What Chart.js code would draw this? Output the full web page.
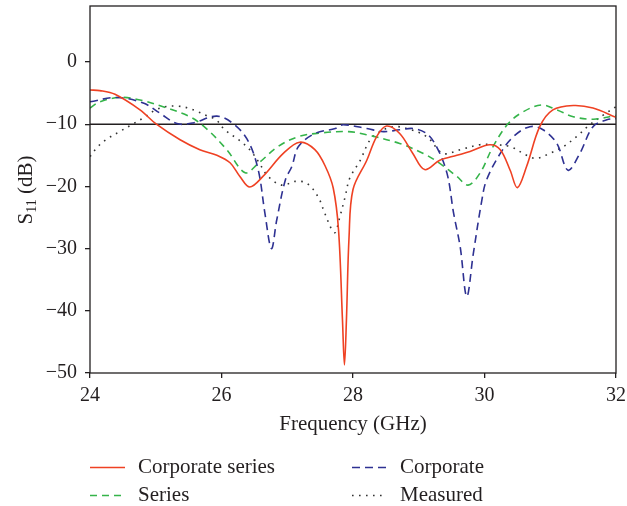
<!DOCTYPE html>
<html>
<head>
<meta charset="utf-8">
<script src="https://cdn.jsdelivr.net/npm/chart.js@4.4.0/dist/chart.umd.min.js"></script>
<style>
  html, body { margin: 0; padding: 0; background: #ffffff; }
  #wrap { width: 627px; height: 506px; }
</style>
</head>
<body>
<div id="wrap"><canvas id="chart" width="627" height="506"></canvas></div>
<script>
// Frequency axis ticks (GHz) and S11 axis ticks (dB)
const freqTicks = [24, 26, 28, 30, 32];
const s11Ticks = [-50, -40, -30, -20, -10, 0];
const refLevel = -10;

// Corporate series (simulated)
const corpSeriesFreq = [24.0, 24.15, 24.38, 24.76, 25.01, 25.37, 25.67, 25.93, 26.13, 26.28, 26.43, 26.63, 26.94, 27.19, 27.42, 27.58, 27.7, 27.78, 27.84, 27.87, 27.9, 27.94, 28.0, 28.21, 28.36, 28.51, 28.71, 28.91, 29.09, 29.32, 29.58, 29.78, 30.08, 30.24, 30.39, 30.5, 30.64, 30.84, 31.04, 31.35, 31.65, 32.0];
const corpSeriesS11 = [-4.5, -4.6, -5.2, -7.7, -10.0, -12.5, -14.1, -15.0, -16.2, -18.4, -20.1, -18.4, -14.7, -12.9, -14.1, -16.8, -20.3, -27.0, -41.5, -48.7, -41.5, -28.1, -20.5, -15.8, -12.0, -10.3, -11.5, -14.7, -17.3, -15.8, -15.0, -14.4, -13.3, -14.1, -17.4, -20.2, -16.8, -10.4, -7.7, -7.0, -7.4, -8.9];

// Series feed (simulated)
const seriesFreq = [24.0, 24.15, 24.46, 24.76, 25.17, 25.52, 25.77, 26.08, 26.36, 26.56, 26.86, 27.17, 27.52, 27.93, 28.21, 28.71, 29.07, 29.32, 29.58, 29.75, 29.93, 30.13, 30.36, 30.59, 30.87, 31.1, 31.35, 31.66, 32.0];
const seriesS11 = [-7.4, -6.4, -5.7, -6.1, -7.4, -8.8, -10.7, -14.1, -17.8, -16.3, -13.6, -12.0, -11.4, -11.2, -11.7, -13.1, -14.7, -16.3, -18.4, -19.8, -17.9, -13.6, -9.9, -8.0, -6.9, -7.7, -8.8, -9.2, -8.6];

// Corporate feed (simulated)
const corpFreq = [24.0, 24.41, 24.81, 25.06, 25.32, 25.57, 25.93, 26.2, 26.41, 26.56, 26.66, 26.76, 26.84, 26.97, 27.07, 27.17, 27.42, 27.73, 27.85, 28.21, 28.46, 28.71, 28.92, 29.12, 29.27, 29.43, 29.53, 29.63, 29.73, 29.83, 29.96, 30.03, 30.24, 30.44, 30.69, 30.89, 31.1, 31.27, 31.45, 31.65, 31.86, 32.0];
const corpS11 = [-6.4, -5.7, -6.6, -8.2, -9.9, -9.8, -8.7, -10.1, -12.8, -17.4, -24.3, -30.0, -25.4, -19.0, -16.8, -13.6, -11.5, -10.7, -10.1, -10.7, -11.2, -10.9, -10.7, -11.5, -13.6, -17.9, -24.3, -29.7, -37.7, -30.8, -22.2, -19.0, -14.7, -12.0, -10.4, -10.9, -13.1, -17.4, -14.7, -10.4, -9.3, -9.1];

// Measured
const measFreq = [24.0, 24.12, 24.27, 24.45, 24.63, 24.81, 24.98, 25.14, 25.34, 25.49, 25.64, 25.79, 25.92, 26.05, 26.26, 26.43, 26.56, 26.71, 26.92, 27.12, 27.3, 27.47, 27.57, 27.68, 27.73, 27.8, 27.88, 27.95, 28.11, 28.26, 28.41, 28.61, 28.82, 29.12, 29.37, 29.63, 29.93, 30.13, 30.39, 30.64, 30.79, 30.99, 31.2, 31.4, 31.6, 31.81, 32.0];
const measS11 = [-15.2, -13.6, -12.3, -11.2, -10.1, -9.0, -7.8, -7.2, -7.1, -7.4, -8.0, -8.7, -9.3, -10.9, -12.5, -14.1, -16.0, -18.4, -19.8, -19.2, -19.5, -21.7, -24.3, -27.0, -27.4, -24.9, -21.7, -18.7, -15.8, -12.5, -11.2, -10.4, -10.7, -12.0, -14.7, -14.1, -13.3, -13.3, -13.6, -15.0, -15.5, -14.7, -13.6, -12.0, -10.1, -8.5, -7.2];

const INK = '#231f20';
const SERIF = '"Liberation Serif", "DejaVu Serif", serif';

const toPoints = (xs, ys) => xs.map((x, i) => ({ x: x, y: ys[i] }));

const curves = [
  { label: 'Corporate series', data: toPoints(corpSeriesFreq, corpSeriesS11), color: '#ef4123', dash: [], width: 1.6 },
  { label: 'Corporate', data: toPoints(corpFreq, corpS11), color: '#2e3192', dash: [8, 5], width: 1.6 },
  { label: 'Series', data: toPoints(seriesFreq, seriesS11), color: '#35b44a', dash: [7, 5], width: 1.6 },
  { label: 'Measured', data: toPoints(measFreq, measS11), color: '#333333', dash: [1.6, 5.4], width: 1.6 }
];

const datasets = curves.map(c => ({
  label: c.label,
  data: c.data,
  borderColor: c.color,
  borderDash: c.dash,
  borderWidth: c.width,
  pointRadius: 0,
  fill: false,
  tension: 0.35,
  inLegend: true
}));

// -10 dB reference level across the band
datasets.push({
  label: 'ref',
  data: [{ x: freqTicks[0], y: refLevel }, { x: freqTicks[freqTicks.length - 1], y: refLevel }],
  borderColor: INK,
  borderWidth: 1.4,
  pointRadius: 0,
  fill: false,
  inLegend: false
});

const frameAndText = {
  id: 'frameAndText',
  afterDraw(chart) {
    const ctx = chart.ctx;
    const a = chart.chartArea;
    ctx.save();
    // plot frame
    ctx.strokeStyle = INK;
    ctx.lineWidth = 1.3;
    ctx.strokeRect(a.left, a.top, a.right - a.left, a.bottom - a.top);

    ctx.fillStyle = INK;
    // x-axis title
    ctx.font = '21px ' + SERIF;
    ctx.textAlign = 'center';
    ctx.textBaseline = 'alphabetic';
    ctx.fillText('Frequency (GHz)', (a.left + a.right) / 2, 430);

    // y-axis title with subscript
    const big = '21px ' + SERIF, small = '14px ' + SERIF;
    ctx.font = big;
    const wS = ctx.measureText('S').width;
    const wRest = ctx.measureText(' (dB)').width;
    ctx.font = small;
    const wSub = ctx.measureText('11').width;
    const total = wS + wSub + wRest;
    ctx.translate(32, 190);
    ctx.rotate(-Math.PI / 2);
    ctx.textAlign = 'left';
    let x0 = -total / 2;
    ctx.font = big;
    ctx.fillText('S', x0, 0);
    ctx.font = small;
    ctx.fillText('11', x0 + wS, 4);
    ctx.font = big;
    ctx.fillText(' (dB)', x0 + wS + wSub, 0);
    ctx.restore();

    // legend, two columns
    ctx.save();
    const items = chart.data.datasets.filter(d => d.inLegend);
    const order = ['Corporate series', 'Corporate', 'Series', 'Measured'];
    const slots = [
      { sx: 90, tx: 138, y: 473 },
      { sx: 352, tx: 400, y: 473 },
      { sx: 90, tx: 138, y: 501 },
      { sx: 352, tx: 400, y: 501 }
    ];
    order.forEach((name, i) => {
      const d = items.find(it => it.label === name);
      const s = slots[i];
      ctx.strokeStyle = d.borderColor;
      ctx.lineWidth = d.borderWidth;
      ctx.setLineDash(d.borderDash || []);
      ctx.beginPath();
      ctx.moveTo(s.sx, s.y - 5.5);
      ctx.lineTo(s.sx + 35, s.y - 5.5);
      ctx.stroke();
      ctx.setLineDash([]);
      ctx.fillStyle = INK;
      ctx.font = '21px ' + SERIF;
      ctx.textAlign = 'left';
      ctx.textBaseline = 'alphabetic';
      ctx.fillText(name, s.tx, s.y);
    });
    ctx.restore();
  }
};

const fmt = v => (v < 0 ? '\u2212' + Math.abs(v) : String(v));

new Chart(document.getElementById('chart'), {
  type: 'line',
  data: { datasets: datasets },
  options: {
    responsive: false,
    animation: false,
    layout: { padding: { top: 6, right: 11, left: 0, bottom: 0 } },
    plugins: { legend: { display: false }, tooltip: { enabled: false } },
    scales: {
      x: {
        type: 'linear',
        min: 24, max: 32,
        afterBuildTicks: s => { s.ticks = freqTicks.map(v => ({ value: v })); },
        afterFit: s => { s.height = 133; s.paddingLeft = 0; s.paddingRight = 0; },
        border: { display: false },
        grid: { drawOnChartArea: false, drawTicks: true, tickLength: 5, color: INK, lineWidth: 1.3 },
        ticks: { color: INK, font: { family: SERIF, size: 20 }, padding: 6, maxRotation: 0, callback: v => fmt(v) },
        title: { display: false }
      },
      y: {
        type: 'linear',
        min: -50, max: 9,
        afterBuildTicks: s => { s.ticks = s11Ticks.map(v => ({ value: v })); },
        afterFit: s => { s.width = 90; s.paddingTop = 0; s.paddingBottom = 0; },
        border: { display: false },
        grid: { drawOnChartArea: false, drawTicks: true, tickLength: 5, color: INK, lineWidth: 1.3 },
        ticks: { color: INK, font: { family: SERIF, size: 20 }, padding: 8, callback: v => fmt(v) },
        title: { display: false }
      }
    }
  },
  plugins: [frameAndText]
});
</script>
</body>
</html>
